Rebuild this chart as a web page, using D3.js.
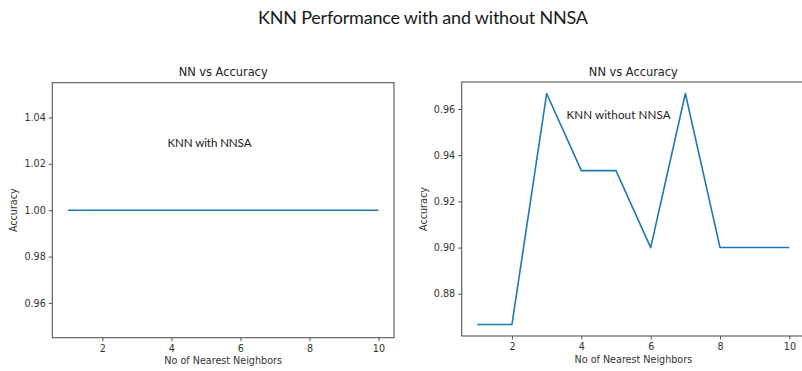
<!DOCTYPE html>
<html>
<head>
<meta charset="utf-8">
<script src="https://cdn.jsdelivr.net/npm/d3@7"></script>
<style>
  body { margin: 0; background: #fff; }
  svg { display: block; }
  .tick text { font-family: "DejaVu Sans", sans-serif; font-size: 9.6px; fill: #333; }
  .tick line { stroke: #555; }
  .domain { stroke: none; }
</style>
</head>
<body>
<div id="chart"></div>
<script>
// neighbours on the x axis, accuracy for each run
var neighbors = [1, 2, 3, 4, 5, 6, 7, 8, 9, 10];
var accWithNNSA = [1, 1, 1, 1, 1, 1, 1, 1, 1, 1];
var accWithoutNNSA = [0.8667, 0.8667, 0.9667, 0.9333, 0.9333, 0.9, 0.9667, 0.9, 0.9, 0.9];
var xTicks = [2, 4, 6, 8, 10];
var yTicksWith = [0.96, 0.98, 1.00, 1.02, 1.04];
var yTicksWithout = [0.88, 0.90, 0.92, 0.94, 0.96];

var W = 802, H = 371;
var svg = d3.select("#chart").append("svg")
    .attr("width", W)
    .attr("height", H);

// figure title (PowerPoint-ish font)
svg.append("text")
    .attr("x", 423).attr("y", 24)
    .attr("text-anchor", "middle")
    .attr("textLength", 330)
    .style("font-family", "Lato, 'Open Sans', sans-serif")
    .style("font-size", "18px")
    .style("fill", "#1a1a1a")
    .text("KNN Performance with and without NNSA");

function drawPanel(p) {
    var x = d3.scaleLinear().domain([0.55, 10.45]).range([p.left, p.right]);
    var y = d3.scaleLinear().domain(p.ydom).range([p.bottom, p.top]);

    var g = svg.append("g");

    g.append("g")
        .attr("transform", "translate(0," + p.bottom + ")")
        .call(d3.axisBottom(x).tickValues(xTicks).tickSize(3.5).tickPadding(4).tickSizeOuter(0)
            .tickFormat(d3.format("d")));

    g.append("g")
        .attr("transform", "translate(" + p.left + ",0)")
        .call(d3.axisLeft(y).tickValues(p.yticks).tickSize(3.5).tickPadding(3).tickSizeOuter(0)
            .tickFormat(d3.format(".2f")));

    var line = d3.line()
        .x(function(d, i) { return x(neighbors[i]); })
        .y(function(d) { return y(d); });

    g.append("path")
        .datum(p.values)
        .attr("fill", "none")
        .attr("stroke", "#1f77b4")
        .attr("stroke-width", 1.6)
        .attr("stroke-linejoin", "round")
        .attr("d", line);

    // axes frame
    g.append("rect")
        .attr("x", p.left).attr("y", p.top)
        .attr("width", p.right - p.left)
        .attr("height", p.bottom - p.top)
        .attr("fill", "none")
        .attr("stroke", "#555")
        .attr("stroke-width", 1.1);

    var cx = (p.left + p.right) / 2;
    g.append("text")
        .attr("x", cx).attr("y", p.top - 6.5)
        .attr("text-anchor", "middle")
        .style("font-family", "DejaVu Sans, sans-serif")
        .style("font-size", "11.4px")
        .style("fill", "#222")
        .text("NN vs Accuracy");

    g.append("text")
        .attr("x", cx).attr("y", p.bottom + 26.5)
        .attr("text-anchor", "middle")
        .style("font-family", "DejaVu Sans, sans-serif")
        .style("font-size", "9.6px")
        .style("fill", "#333")
        .text("No of Nearest Neighbors");

    g.append("text")
        .attr("transform", "translate(" + p.ylabX + "," + ((p.top + p.bottom) / 2) + ") rotate(-90)")
        .attr("text-anchor", "middle")
        .attr("dy", "0.35em")
        .style("font-family", "DejaVu Sans, sans-serif")
        .style("font-size", "9.6px")
        .style("fill", "#333")
        .text("Accuracy");

    g.append("text")
        .attr("x", p.note.x).attr("y", p.note.y)
        .attr("textLength", p.note.w)
        .style("font-family", "Lato, 'Open Sans', sans-serif")
        .style("font-size", "11.6px")
        .style("fill", "#1a1a1a")
        .text(p.note.text);
}

drawPanel({
    left: 52.3, right: 394, top: 82.7, bottom: 337.7,
    ydom: [0.945, 1.055], yticks: yTicksWith, values: accWithNNSA,
    ylabX: 13.5,
    note: { text: "KNN with NNSA", x: 167.5, y: 147, w: 84 }
});

drawPanel({
    left: 461.7, right: 805, top: 82, bottom: 336,
    ydom: [0.8617, 0.9717], yticks: yTicksWithout, values: accWithoutNNSA,
    ylabX: 423.3,
    note: { text: "KNN without NNSA", x: 566.5, y: 119, w: 104 }
});
</script>
</body>
</html>
